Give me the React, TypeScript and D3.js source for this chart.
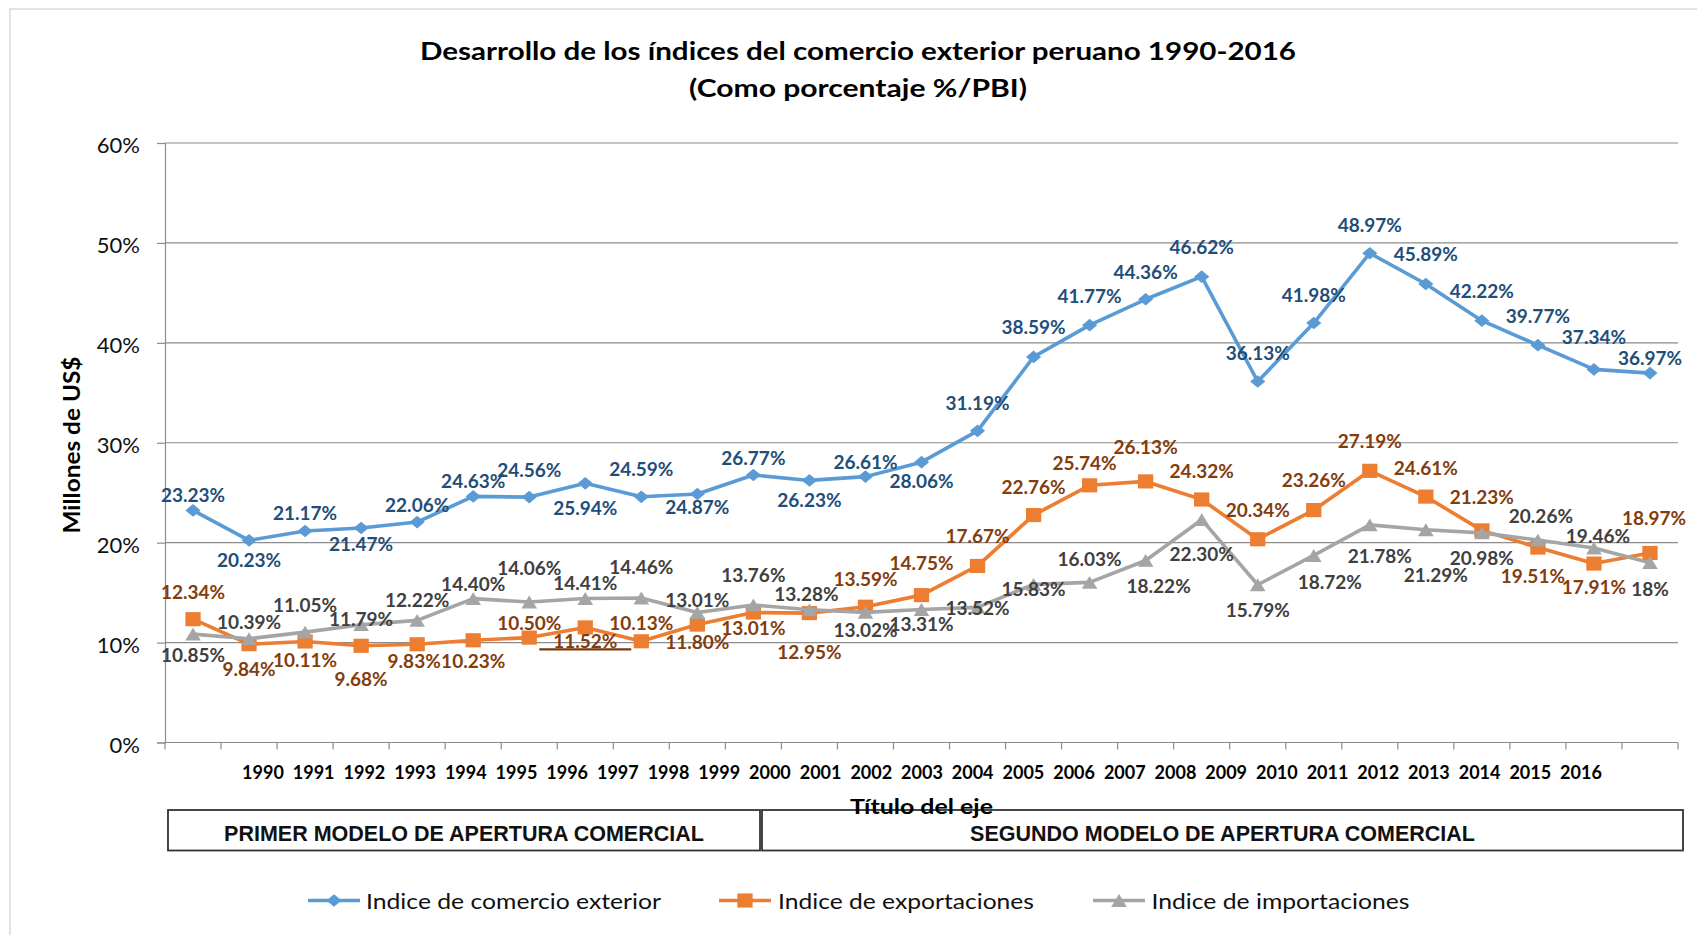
import React, { useRef, useEffect } from 'react';
import * as d3 from 'd3';

// datos (% del PBI)
const years = ['1990', '1991', '1992', '1993', '1994', '1995', '1996', '1997', '1998', '1999', '2000', '2001', '2002', '2003',
  '2004', '2005', '2006', '2007', '2008', '2009', '2010', '2011', '2012', '2013', '2014', '2015', '2016'];
const comercioExterior = [23.23, 20.23, 21.17, 21.47, 22.06, 24.63, 24.56, 25.94, 24.59, 24.87, 26.77, 26.23, 26.61, 28.06,
  31.19, 38.59, 41.77, 44.36, 46.62, 36.13, 41.98, 48.97, 45.89, 42.22, 39.77, 37.34, 36.97];
const exportaciones = [12.34, 9.84, 10.11, 9.68, 9.83, 10.23, 10.50, 11.52, 10.13, 11.80, 13.01, 12.95, 13.59, 14.75,
  17.67, 22.76, 25.74, 26.13, 24.32, 20.34, 23.26, 27.19, 24.61, 21.23, 19.51, 17.91, 18.97];
const importaciones = [10.85, 10.39, 11.05, 11.79, 12.22, 14.40, 14.06, 14.41, 14.46, 13.01, 13.76, 13.28, 13.02, 13.31,
  13.52, 15.83, 16.03, 18.22, 22.30, 15.79, 18.72, 21.78, 21.29, 20.98, 20.26, 19.46, 18];
const yTicks = [0, 10, 20, 30, 40, 50, 60];
const seriesNames = ['Indice de comercio exterior', 'Indice de exportaciones', 'Indice de importaciones'];
const modelos = ['PRIMER MODELO DE APERTURA COMERCIAL', 'SEGUNDO MODELO DE APERTURA COMERCIAL'];

// desplazamiento de etiquetas respecto al punto [dx, dy]
const offBlue = [[0, -16], [0, 19], [0, -18], [0, 16], [0, -18], [0, -16], [0, -28], [0, 24], [0, -28], [0, 12], [0, -18], [0, 19],
  [0, -15], [0, 18], [0, -28], [0, -30], [0, -30], [0, -28], [0, -30], [0, -29], [0, -29], [0, -29], [0, -30], [0, -30], [0, -30], [0, -33], [0, -16]];
const offOrange = [[0, -28], [0, 24], [0, 18], [0, 33], [-3, 16], [0, 20], [0, -15], [0, 13], [0, -19], [0, 17], [0, 15], [0, 38],
  [0, -28], [0, -33], [0, -30], [0, -29], [-5, -23], [0, -35], [0, -29], [0, -30], [0, -31], [0, -30], [0, -29], [0, -34], [-5, 28], [0, 23], [4, -35]];
const offGray = [[0, 20], [0, -17], [0, -28], [0, -6], [0, -21], [0, -15], [0, -35], [0, -16], [0, -32], [0, -13], [0, -31], [-3, -16],
  [0, 17], [0, 14], [0, 0], [0, 4], [0, -24], [13, 25], [0, 34], [0, 25], [16, 26], [10, 31], [10, 45], [0, 25], [3, -25], [4, -13], [0, 26]];

const CAL = 'Lato, "Open Sans", sans-serif';
const ARIAL = '"Liberation Sans", Arial, sans-serif';

// marcadores
const diamond = {
  draw(ctx, size) {
    const h = Math.sqrt(size) / 2, w = h * 1.2;
    ctx.moveTo(0, -h); ctx.lineTo(w, 0); ctx.lineTo(0, h); ctx.lineTo(-w, 0); ctx.closePath();
  }
};
const square = {
  draw(ctx, size) {
    const h = Math.sqrt(size) / 2, w = h * 1.08;
    ctx.rect(-w, -h, 2 * w, 2 * h);
  }
};
const triangle = {
  draw(ctx, size) {
    const h = Math.sqrt(size) / 2, w = h * 1.22;
    ctx.moveTo(0, -h); ctx.lineTo(w, h); ctx.lineTo(-w, h); ctx.closePath();
  }
};

const fmt = (v) => Number.isInteger(v) ? `${v}%` : `${v.toFixed(2)}%`;

function draw(svg) {
  const W = 1697, H = 935;
  const left = 165, right = 1678, top = 143, bottom = 742.5;

  const x = d3.scaleBand().domain(years).range([left, right]);
  const cx = (yr) => x(yr) + x.bandwidth() / 2;
  const y = d3.scaleLinear().domain([0, 60]).range([bottom, top]);

  svg.append('rect').attr('width', W).attr('height', H).attr('fill', '#fff');
  svg.append('rect').attr('x', 10).attr('y', 9).attr('width', W).attr('height', H)
    .attr('fill', 'none').attr('stroke', '#d9d9d9').attr('stroke-width', 1.5);

  // título
  [['Desarrollo de los índices del comercio exterior peruano 1990-2016', 59.5, 876],
    ['(Como porcentaje %/PBI)', 96.5, 338]].forEach(([t, ty, len]) => {
    svg.append('text')
      .attr('x', 858 - len / 2).attr('y', ty)
      .attr('font-family', CAL).attr('font-weight', 700).attr('font-size', 25)
      .attr('textLength', len).attr('lengthAdjust', 'spacingAndGlyphs')
      .attr('fill', '#000')
      .text(t);
  });

  // rejilla
  svg.append('g').selectAll('line')
    .data(yTicks.filter(d => d > 0))
    .enter().append('line')
    .attr('x1', left).attr('x2', right)
    .attr('y1', d => y(d)).attr('y2', d => y(d))
    .attr('stroke', '#8c8c8c').attr('stroke-width', 1.2);

  // eje Y
  const yAxis = svg.append('g')
    .attr('transform', `translate(${left},0)`)
    .call(d3.axisLeft(y).tickValues(yTicks).tickSize(8).tickPadding(17).tickFormat(d => d + '%'));
  yAxis.select('.domain').attr('stroke', '#8c8c8c').attr('stroke-width', 1.2);
  yAxis.selectAll('.tick line').attr('stroke', '#8c8c8c').attr('stroke-width', 1.2);
  yAxis.selectAll('.tick text')
    .attr('font-family', CAL).attr('font-size', 22).attr('fill', '#111').attr('dy', '0.45em');

  // eje X
  svg.append('line').attr('x1', left).attr('x2', right).attr('y1', bottom).attr('y2', bottom)
    .attr('stroke', '#8c8c8c').attr('stroke-width', 1.2);
  const edges = years.map(yr => x(yr)).concat([right]);
  svg.append('g').selectAll('line')
    .data(edges)
    .enter().append('line')
    .attr('x1', d => d).attr('x2', d => d)
    .attr('y1', bottom).attr('y2', bottom + 7)
    .attr('stroke', '#8c8c8c').attr('stroke-width', 1.2);

  // etiquetas de años (desplazadas como en el original)
  const xl = d3.scalePoint().domain(years).range([263, 1581]);
  svg.append('g').selectAll('text')
    .data(years)
    .enter().append('text')
    .attr('x', d => xl(d)).attr('y', 778.5)
    .attr('text-anchor', 'middle')
    .attr('font-family', CAL).attr('font-weight', 700).attr('font-size', 18)
    .attr('fill', '#000')
    .text(d => d);

  // título eje Y
  svg.append('text')
    .attr('transform', 'translate(80,445) rotate(-90)')
    .attr('x', -177 / 2)
    .attr('font-family', CAL).attr('font-weight', 700).attr('font-size', 22.5)
    .attr('textLength', 177).attr('lengthAdjust', 'spacingAndGlyphs')
    .text('Millones de US$');

  // recuadros de modelos
  const boxes = [[168, 760], [762, 1683]];
  boxes.forEach(([x0, x1], i) => {
    svg.append('rect')
      .attr('x', x0).attr('y', 810).attr('width', x1 - x0).attr('height', 40.5)
      .attr('fill', '#fff').attr('stroke', '#333').attr('stroke-width', 1.8);
    svg.append('text')
      .attr('x', (x0 + x1) / 2).attr('y', 840.5)
      .attr('text-anchor', 'middle')
      .attr('font-family', ARIAL).attr('font-weight', 700).attr('font-size', 21.5)
      .attr('fill', '#111')
      .text(modelos[i]);
  });

  // título eje X (encima del recuadro)
  svg.append('text')
    .attr('x', 850).attr('y', 813.5)
    .attr('font-family', CAL).attr('font-weight', 700).attr('font-size', 21)
    .attr('textLength', 143).attr('lengthAdjust', 'spacingAndGlyphs')
    .text('Título del eje');

  const series = [
    { values: comercioExterior, color: '#5B9BD5', label: '#1F4E79', type: diamond, size: 160, off: offBlue },
    { values: exportaciones, color: '#ED7D31', label: '#843C0C', type: square, size: 200, off: offOrange },
    { values: importaciones, color: '#A5A5A5', label: '#404040', type: triangle, size: 165, off: offGray }
  ];

  const line = d3.line()
    .x((d, i) => cx(years[i]))
    .y(d => y(d));

  series.forEach(s => {
    const g = svg.append('g');
    g.append('path')
      .attr('d', line(s.values))
      .attr('fill', 'none')
      .attr('stroke', s.color)
      .attr('stroke-width', 3.6)
      .attr('stroke-linejoin', 'round');
    g.selectAll('path.mk')
      .data(s.values)
      .enter().append('path')
      .attr('class', 'mk')
      .attr('transform', (d, i) => `translate(${cx(years[i])},${y(d)})`)
      .attr('d', d3.symbol().type(s.type).size(s.size)())
      .attr('fill', s.color);
  });

  series.forEach(s => {
    svg.append('g').selectAll('text')
      .data(s.values)
      .enter().append('text')
      .attr('x', (d, i) => cx(years[i]) + s.off[i][0])
      .attr('y', (d, i) => y(d) + s.off[i][1])
      .attr('text-anchor', 'middle')
      .attr('dominant-baseline', 'central')
      .attr('font-family', CAL).attr('font-weight', 700).attr('font-size', 19)
      .attr('fill', s.label)
      .text(d => fmt(d));
  });

  // raya suelta bajo la etiqueta de 1997 (exportaciones)
  const i97 = years.indexOf('1997');
  const lx = cx('1997') + offOrange[i97][0];
  const ly = y(exportaciones[i97]) + offOrange[i97][1] + 9;
  svg.append('line')
    .attr('x1', lx - 46).attr('x2', lx + 46).attr('y1', ly).attr('y2', ly)
    .attr('stroke', '#7A3A0C').attr('stroke-width', 2.4);

  // leyenda
  const legend = [
    { x0: 308, tx: 366, len: 295 },
    { x0: 719, tx: 778, len: 256 },
    { x0: 1093, tx: 1151.5, len: 258 }
  ];
  legend.forEach((l, i) => {
    const s = series[i];
    const ly0 = 900.5;
    svg.append('line')
      .attr('x1', l.x0).attr('x2', l.x0 + 52).attr('y1', ly0).attr('y2', ly0)
      .attr('stroke', s.color).attr('stroke-width', 3.6);
    svg.append('path')
      .attr('transform', `translate(${l.x0 + 26},${ly0})`)
      .attr('d', d3.symbol().type(s.type).size(s.size)())
      .attr('fill', s.color);
    svg.append('text')
      .attr('x', l.tx).attr('y', 908.5)
      .attr('font-family', CAL).attr('font-size', 20.5)
      .attr('textLength', l.len).attr('lengthAdjust', 'spacingAndGlyphs')
      .attr('fill', '#111')
      .text(seriesNames[i]);
  });
}

export default function App() {
  const ref = useRef(null);

  useEffect(() => {
    document.body.style.margin = '0';
    const svg = d3.select(ref.current);
    svg.selectAll('*').remove();
    draw(svg);
  }, []);

  return <svg ref={ref} width={1697} height={935} style={{ display: 'block' }} />;
}
